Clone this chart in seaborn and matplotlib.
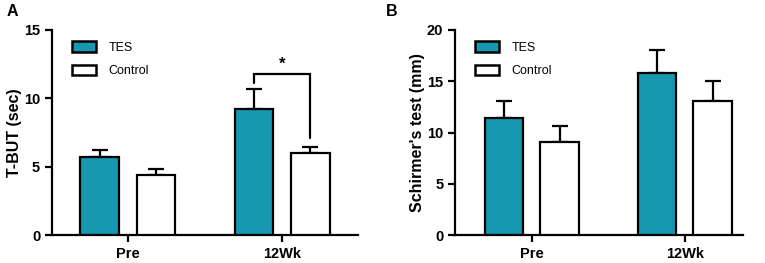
import matplotlib
matplotlib.use("Agg")
import matplotlib.pyplot as plt
from matplotlib.patches import Patch
import seaborn as sns
import pandas as pd
import numpy as np

sns.set_style("ticks")
plt.rcParams['font.family'] = ['Liberation Sans', 'DejaVu Sans']
plt.rcParams['text.color'] = 'black'
plt.rcParams['axes.labelcolor'] = 'black'
plt.rcParams['xtick.color'] = 'black'
plt.rcParams['ytick.color'] = 'black'
plt.rcParams['axes.edgecolor'] = 'black'

timepoints = ["Pre", "12Wk"]
groups = ["TES", "Control"]
tbut_tes = [5.7, 9.25]
tbut_tes_err = [0.55, 1.45]
tbut_ctrl = [4.4, 6.0]
tbut_ctrl_err = [0.4, 0.45]
sch_tes = [11.4, 15.8]
sch_tes_err = [1.7, 2.2]
sch_ctrl = [9.1, 13.1]
sch_ctrl_err = [1.5, 1.9]

TEAL = "#1598B0"
palette = {"TES": TEAL, "Control": "white"}


def make_df(tes, ctrl, tes_err, ctrl_err):
    rows = []
    for i, t in enumerate(timepoints):
        rows.append({"time": t, "group": "TES", "value": tes[i], "err": tes_err[i]})
        rows.append({"time": t, "group": "Control", "value": ctrl[i], "err": ctrl_err[i]})
    return pd.DataFrame(rows)


fig = plt.figure(figsize=(7.65, 2.63), dpi=100)
axA = fig.add_axes([0.068, 0.106, 0.400, 0.780])
axB = fig.add_axes([0.595, 0.106, 0.376, 0.780])


def draw(ax, df, ymax, ystep, ylabel, xlim):
    sns.barplot(data=df, x="time", y="value", hue="group", order=timepoints,
                hue_order=groups, palette=palette, errorbar=None, saturation=1,
                width=0.73, gap=0.315, edgecolor="black", linewidth=1.6,
                legend=False, ax=ax, zorder=3)
    patches = [p for p in ax.patches if p.get_height() > 0]
    for p in patches:
        x = p.get_x() + p.get_width() / 2
        h = p.get_height()
        sub = df[np.isclose(df["value"], h)]
        e = sub["err"].iloc[0]
        ax.errorbar(x, h, yerr=[[0], [e]], fmt="none", ecolor="black",
                    elinewidth=1.6, capsize=6, capthick=1.6, zorder=2)
    ax.set_ylim(0, ymax)
    ax.set_yticks(np.arange(0, ymax + 0.01, ystep))
    ax.set_xlim(*xlim)
    ax.set_xlabel("")
    ax.set_ylabel(ylabel, fontsize=11.5, fontweight="bold", labelpad=1.5)
    for sp in ["top", "right"]:
        ax.spines[sp].set_visible(False)
    for sp in ["left", "bottom"]:
        ax.spines[sp].set_linewidth(1.6)
    ax.tick_params(axis="both", width=1.6, length=5, labelsize=10.5, direction="out")
    for lab in ax.get_xticklabels() + ax.get_yticklabels():
        lab.set_fontweight("bold")
    handles = [Patch(facecolor=palette[g], edgecolor="black", linewidth=1.8, label=g)
               for g in groups]
    ax.legend(handles=handles, loc="upper left", bbox_to_anchor=(0.03, 1.0),
              frameon=False, fontsize=9, handlelength=1.9, handleheight=0.9,
              labelspacing=0.9, handletextpad=1.0)
    return patches


dfA = make_df(tbut_tes, tbut_ctrl, tbut_tes_err, tbut_ctrl_err)
dfB = make_df(sch_tes, sch_ctrl, sch_tes_err, sch_ctrl_err)

pA = draw(axA, dfA, 15, 5, "T-BUT (sec)", (-0.49, 1.49))
pB = draw(axB, dfB, 20, 5, "Schirmer's test (mm)", (-0.5, 1.38))

xs = sorted([p.get_x() + p.get_width() / 2 for p in pA])
x1, x2 = xs[2], xs[3]
yb = 11.75
axA.plot([x1, x1, x2, x2], [11.1, yb, yb, 7.1], color="black", lw=1.6,
         solid_joinstyle="miter", zorder=4, clip_on=False)
axA.text((x1 + x2) / 2, yb + 0.2, "*", ha="center", va="bottom",
         fontsize=12, fontweight="bold")

fig.text(0.008, 0.985, "A", fontsize=11.5, fontweight="bold", va="top", ha="left")
fig.text(0.505, 0.985, "B", fontsize=11.5, fontweight="bold", va="top", ha="left")

fig.savefig("out.png", dpi=100)
